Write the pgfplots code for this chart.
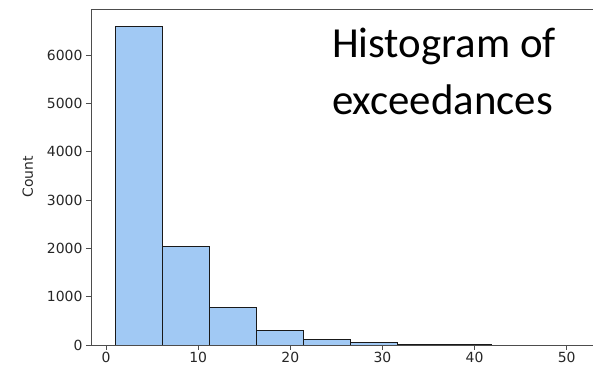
\documentclass[border=0pt]{standalone}
\usepackage{fontspec}
\usepackage{pgfplots}
\pgfplotsset{compat=1.18}
\newfontfamily\carlito{Carlito}
\newfontfamily\dejavu{DejaVu Sans}
\definecolor{barfill}{HTML}{A1C9F4}
\definecolor{spine}{HTML}{4D4D4D}
\begin{document}
\begin{tikzpicture}
\path[use as bounding box] (-91bp,-26bp) rectangle (502bp,345bp);
\begin{axis}[
  at={(0,0)}, anchor=south west,
  scale only axis, width=502bp, height=336bp,
  xmin=-1.63, xmax=52.86, ymin=0, ymax=6952,
  axis x line=box, axis y line=left,
  axis line style={-, draw=spine, line width=0.9pt},
  xtick pos=bottom, ytick pos=left,
  tick align=outside, major tick length=5bp,
  tick style={draw=spine, line width=0.8pt},
  xtick={0,10,...,50}, ytick={0,1000,...,6000},
  scaled y ticks=false, scaled x ticks=false,
  /pgf/number format/1000 sep={},
  /pgf/number format/assume math mode=true,
  tick label style={font=\dejavu\fontsize{14}{16}\selectfont, text=black!85},
  xticklabel style={yshift=1bp},
  ylabel={Count}, ylabel shift=7bp,
  ylabel style={font=\dejavu\fontsize{14}{16}\selectfont, text=black!85},
]
\addplot[ybar interval, fill=barfill, draw=black!90, line width=1pt]
  coordinates {(1,6600) (6.1,2028) (11.2,780) (16.3,304) (21.4,122) (26.5,56) (31.6,20) (36.7,10) (41.8,0)};
\end{axis}
\node[anchor=base west, inner sep=0pt, font=\carlito\fontsize{43}{50}\selectfont] at (241bp,287bp) {Histogram of};
\node[anchor=base west, inner sep=0pt, font=\carlito\fontsize{43}{50}\selectfont] at (241bp,230bp) {exceedances};
\end{tikzpicture}
\end{document}
